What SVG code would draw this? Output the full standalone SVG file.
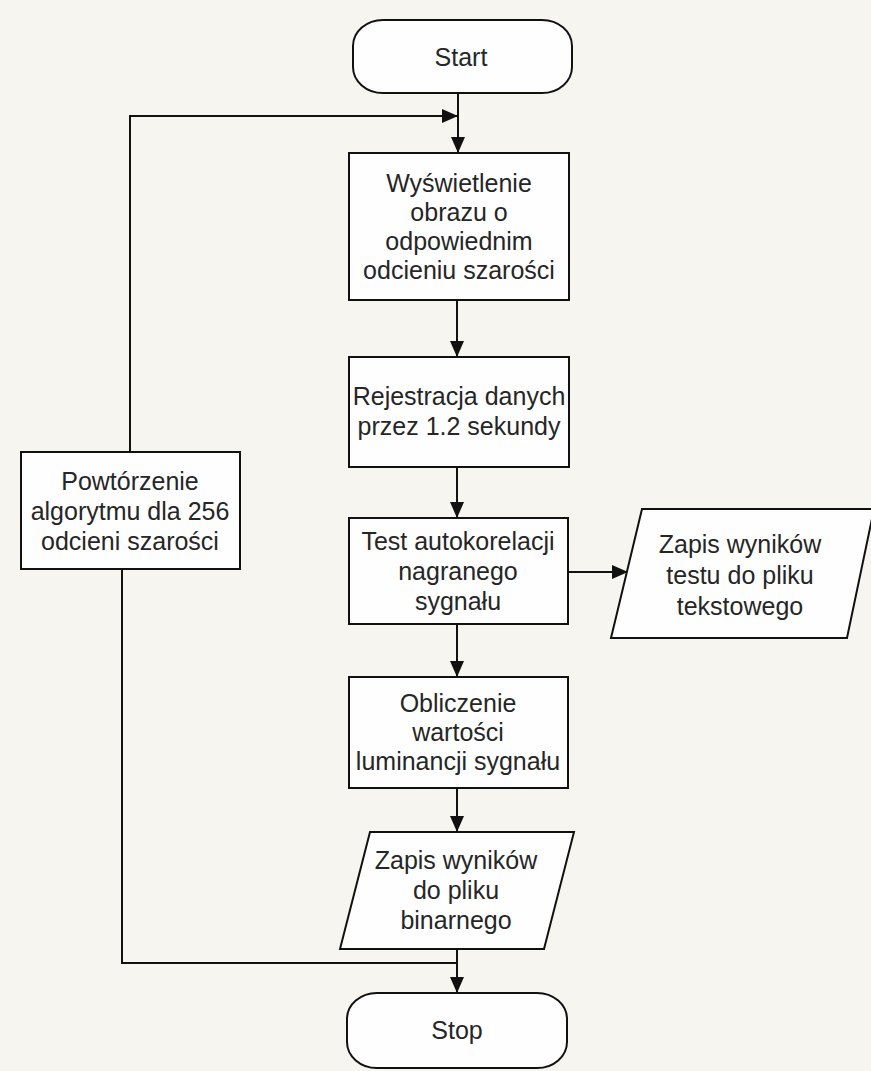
<svg xmlns="http://www.w3.org/2000/svg" width="871" height="1071" viewBox="0 0 871 1071">
<style>
.shape{fill:#fefefe;stroke:#111;stroke-width:2}
.conn{fill:none;stroke:#111;stroke-width:2}
text{font-family:"Liberation Sans",Arial,sans-serif;font-size:25px;fill:#262626;text-anchor:middle}
</style>
<defs>
<marker id="arr" viewBox="0 0 16 14" refX="16" refY="7" markerWidth="16" markerHeight="14" markerUnits="userSpaceOnUse" orient="auto">
<path d="M0,0 L16,7 L0,14 Z" fill="#111"/>
</marker>
</defs>
<rect width="871" height="1071" fill="#f7f5f0"/>
<g id="connectors">
<line class="conn" x1="458" y1="93" x2="458" y2="153" marker-end="url(#arr)"/>
<polyline class="conn" points="130,452 130,116 458,116" marker-end="url(#arr)"/>
<line class="conn" x1="457" y1="300" x2="457" y2="357" marker-end="url(#arr)"/>
<line class="conn" x1="457" y1="467" x2="457" y2="518" marker-end="url(#arr)"/>
<line class="conn" x1="568" y1="572" x2="628" y2="572" marker-end="url(#arr)"/>
<line class="conn" x1="457" y1="624" x2="457" y2="677" marker-end="url(#arr)"/>
<line class="conn" x1="457" y1="788" x2="457" y2="832" marker-end="url(#arr)"/>
<line class="conn" x1="457" y1="949" x2="457" y2="993" marker-end="url(#arr)"/>
<polyline class="conn" points="122,569 122,963 457,963"/>
</g>
<g id="start">
<rect class="shape" x="353" y="20" width="219" height="73" rx="30" ry="26"/>
<text x="461" y="66">Start</text>
</g>
<g id="display">
<rect class="shape" x="349" y="153" width="220" height="147"/>
<text x="459" y="192">Wyświetlenie</text>
<text x="459" y="221">obrazu o</text>
<text x="459" y="250">odpowiednim</text>
<text x="459" y="279">odcieniu szarości</text>
</g>
<g id="record">
<rect class="shape" x="349" y="357" width="220" height="110"/>
<text x="459" y="405">Rejestracja danych</text>
<text x="459" y="435">przez 1.2 sekundy</text>
</g>
<g id="test">
<rect class="shape" x="349" y="518" width="219" height="106"/>
<text x="458" y="550">Test autokorelacji</text>
<text x="458" y="580">nagranego</text>
<text x="458" y="610">sygnału</text>
</g>
<g id="save-text">
<polygon class="shape" points="642,509 874,509 847,638 611,638"/>
<text x="740" y="553">Zapis wyników</text>
<text x="740" y="584">testu do pliku</text>
<text x="740" y="615">tekstowego</text>
</g>
<g id="compute">
<rect class="shape" x="349" y="677" width="219" height="111"/>
<text x="458" y="712">Obliczenie</text>
<text x="458" y="741">wartości</text>
<text x="458" y="770">luminancji sygnału</text>
</g>
<g id="save-binary">
<polygon class="shape" points="370,832 574,832 544,949 340,949"/>
<text x="456" y="869">Zapis wyników</text>
<text x="456" y="899">do pliku</text>
<text x="456" y="929">binarnego</text>
</g>
<g id="repeat">
<rect class="shape" x="21" y="452" width="219" height="117"/>
<text x="130" y="490">Powtórzenie</text>
<text x="130" y="520">algorytmu dla 256</text>
<text x="130" y="550">odcieni szarości</text>
</g>
<g id="stop">
<rect class="shape" x="347" y="993" width="220" height="75" rx="30" ry="26"/>
<text x="457" y="1039">Stop</text>
</g>
</svg>
